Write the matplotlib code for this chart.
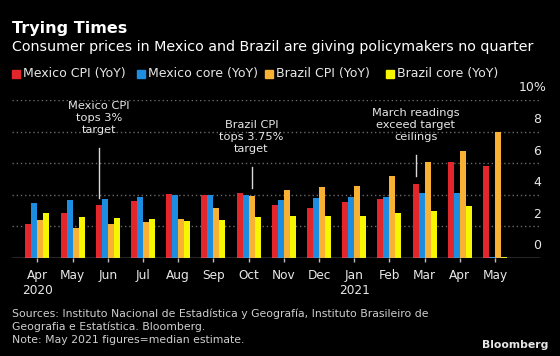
import matplotlib
matplotlib.use("Agg")
import matplotlib.pyplot as plt
from matplotlib.patches import Rectangle
import numpy as np

months = ["Apr\n2020", "May", "Jun", "Jul", "Aug", "Sep", "Oct", "Nov", "Dec",
          "Jan\n2021", "Feb", "Mar", "Apr", "May"]
mexico_cpi = [2.15, 2.84, 3.33, 3.62, 4.05, 4.01, 4.09, 3.33, 3.15, 3.54, 3.76, 4.67, 6.08, 5.80]
mexico_core = [3.50, 3.64, 3.71, 3.85, 3.97, 3.99, 3.98, 3.66, 3.80, 3.84, 3.87, 4.12, 4.13, 0.05]
brazil_cpi = [2.40, 1.88, 2.13, 2.31, 2.44, 3.14, 3.92, 4.31, 4.52, 4.56, 5.20, 6.10, 6.76, 7.95]
brazil_core = [2.85, 2.58, 2.51, 2.45, 2.34, 2.41, 2.58, 2.68, 2.68, 2.68, 2.83, 2.95, 3.27, 0.05]
series_names = ["Mexico CPI (YoY)", "Mexico core (YoY)", "Brazil CPI (YoY)", "Brazil core (YoY)"]
colors = ["#e2262b", "#1c8de0", "#f8b133", "#f6f600"]
y_ticks = [0, 2, 4, 6, 8, 10]

W, H = 560, 356
BG = "#000000"
TXT = "#e8e8e8"

plt.rcParams["font.family"] = ["DejaVu Sans"]

fig = plt.figure(figsize=(W / 100, H / 100), dpi=100, facecolor=BG)


def fx(px):
    return px / W


def fy(py):
    return 1 - py / H


ax = fig.add_axes([fx(12), fy(258), fx(540) - fx(12), fy(100) - fy(258)])
ax.set_facecolor(BG)

x = np.arange(len(months))
w = 0.17
data = [mexico_cpi, mexico_core, brazil_cpi, brazil_core]
for i, (vals, c) in enumerate(zip(data, colors)):
    ax.bar(x + (i - 1.5) * w, vals, width=w, color=c, linewidth=0, zorder=3)

ax.set_xlim(-0.72, 14.28)
ax.set_ylim(0, 10)

# grid lines + y labels on the right
for v in y_ticks:
    if v == 0:
        ax.axhline(0, color="#bdbdbd", lw=1.0, zorder=4)
    else:
        ax.axhline(v, color="#6a6a6a", lw=1.0, ls=(0, (1, 2)), zorder=1)
    lab = "10%" if v == 10 else str(v)
    dx = 5 if v == 10 else 1
    ax.annotate(lab, xy=(1.0, v), xycoords=("axes fraction", "data"),
                xytext=(dx, 4), textcoords="offset points",
                ha="right", va="bottom", color=TXT, fontsize=9)

for s in ax.spines.values():
    s.set_visible(False)
ax.set_yticks([])
ax.set_xticks(x)
ax.set_xticklabels(months, color=TXT, fontsize=8.7, linespacing=1.15)
ax.tick_params(axis="x", length=3, width=1, color="#bdbdbd", pad=5)

# annotations
notes = [
    ("Mexico CPI\ntops 3%\ntarget", 2 - 1.5 * w, 6.95, 3.82, 8.86),
    ("Brazil CPI\ntops 3.75%\ntarget", 6 + 0.5 * w, 5.73, 4.46, 7.66),
    ("March readings\nexceed target\nceilings", 11 - 1.5 * w, 6.5, 5.16, 8.42),
]
for txt, xp, y0, y1, ty in notes:
    ax.plot([xp, xp], [y0, y1], color="#d8d8d8", lw=1, zorder=5)
    ax.text(xp, ty, txt, ha="center", va="center", color=TXT, fontsize=8.2,
            linespacing=1.3, zorder=5)

# header
fig.text(fx(12), fy(28), "Trying Times", color="#ffffff", fontsize=11.5,
         fontweight="bold", va="center", ha="left")
fig.text(fx(12), fy(47), "Consumer prices in Mexico and Brazil are giving policymakers no quarter",
         color="#ffffff", fontsize=10.25, va="center", ha="left")

# legend
leg_x = [12, 137, 265, 386]
for lx, name, c in zip(leg_x, series_names, colors):
    fig.patches.append(Rectangle((fx(lx), fy(78)), fx(8), 8 / H, color=c,
                                 transform=fig.transFigure, figure=fig))
    fig.text(fx(lx + 11), fy(74), name, color=TXT, fontsize=9,
             va="center", ha="left")

# footer
footer = ["Sources: Instituto Nacional de Estadística y Geografía, Instituto Brasileiro de",
          "Geografia e Estatística. Bloomberg.",
          "Note: May 2021 figures=median estimate."]
for k, line in enumerate(footer):
    fig.text(fx(12), fy(314 + 13 * k), line, color="#cfcfcf", fontsize=7.8,
             va="center", ha="left")
fig.text(fx(548), fy(345), "Bloomberg", color="#e6e6e6", fontsize=7.8,
         fontweight="bold", va="center", ha="right")

fig.savefig("out.png", dpi=100, facecolor=BG)
